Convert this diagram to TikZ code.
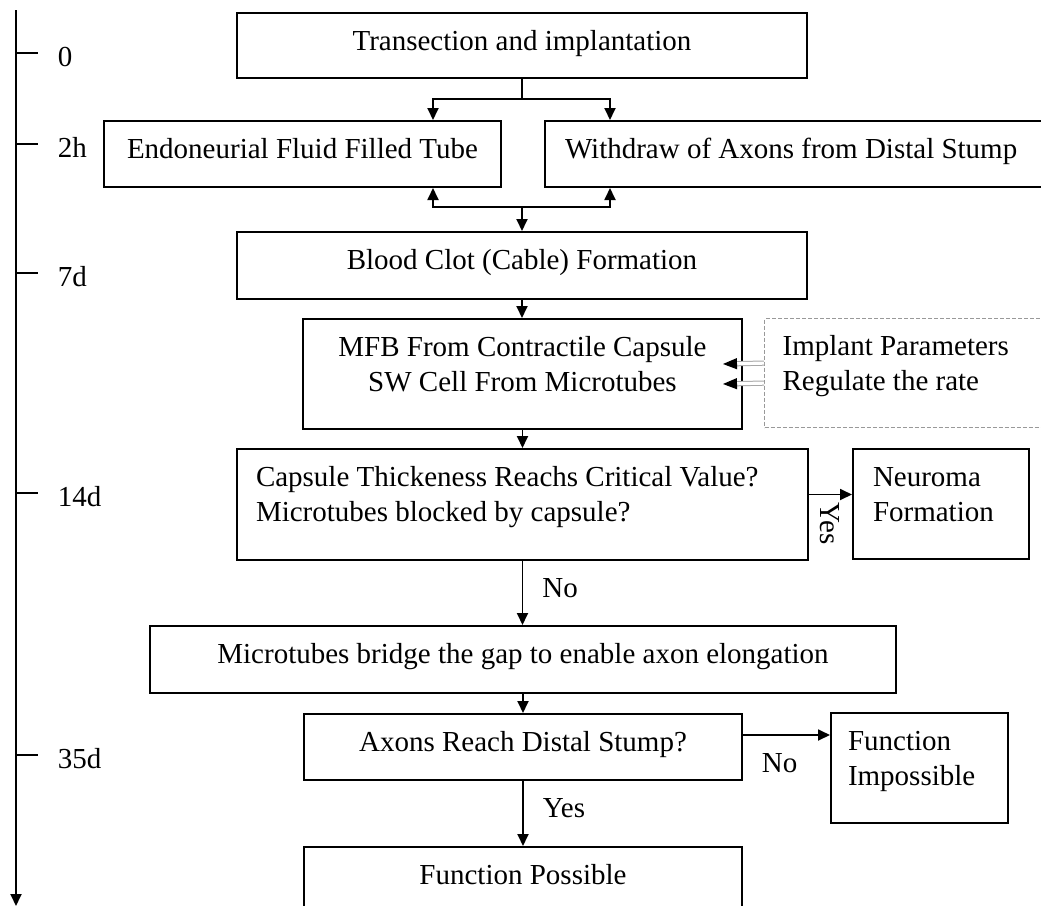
\documentclass[tikz,border=0pt]{standalone}
\usepackage{fontspec}
\setmainfont{Liberation Serif}
\usetikzlibrary{arrows.meta}

\begin{document}
\begin{tikzpicture}[x=0.5pt,y=-0.5pt,line width=0.9pt,
    font=\fontsize{14.5}{17.5}\selectfont,
    >={Triangle[length=6pt,width=5.5pt]},
    box/.style={draw,line width=1pt,anchor=north west,inner ysep=0pt,
      text height=18.5pt,align=flush center},
    lbox/.style={box,align=flush left},
    lab/.style={inner sep=0pt},
    dbl/.style={draw=gray!70,line width=0.5pt,double=white,double distance=1.6pt,
      -{Triangle[length=7pt,width=5.5pt,color=black]}}]
\useasboundingbox (0,0) rectangle (1041,906);

% time line
\draw[->] (16,10) -- (16,906);
\foreach \t/\lab in {53/0,144/2h,273/7d,493/14d,755/35d} {
    \draw (16,\t) -- (38,\t);
    \node[lab,anchor=base west] (tick\lab) at (57,\t+13.5) {\lab};
}

% boxes
\node[box,minimum width=285pt,text depth=14pt] (trans) at (236,12) {Transection and implantation};
\node[box,minimum width=198.5pt,text depth=14.5pt] (tube) at (103,120) {Endoneurial Fluid Filled Tube};
\node[lbox,inner xsep=10pt,text width=233pt,text depth=14.5pt] (wd) at (544,120) {Withdraw of Axons from Distal Stump};
\node[box,minimum width=285pt,text depth=15pt] (clot) at (236,231) {Blood Clot (Cable) Formation};
\node[box,inner xsep=0pt,text width=219.5pt,text depth=36.5pt] (mfb) at (302,318) {MFB From Contractile Capsule\\SW Cell From Microtubes};
\node[lbox,draw=gray!80,line width=0.6pt,dash pattern=on 2pt off 1pt,inner xsep=9pt,text width=130pt,text depth=36pt] (par) at (764,318) {Implant Parameters\\Regulate the rate};
\node[lbox,inner xsep=9.5pt,text width=266.5pt,text depth=37pt] (cap) at (236,448) {Capsule Thickeness Reachs Critical Value?\\Microtubes blocked by capsule?};
\node[lbox,inner xsep=10pt,text width=68pt,text depth=36.5pt] (neu) at (852,448) {Neuroma\\Formation};
\node[box,minimum width=373pt,text depth=15pt] (bridge) at (149,625) {Microtubes bridge the gap to enable axon elongation};
\node[box,minimum width=219pt,text depth=14.5pt] (reach) at (303,713) {Axons Reach Distal Stump?};
\node[lbox,inner xsep=8.5pt,text width=71.5pt,text depth=36.5pt] (imp) at (830,712) {Function\\Impossible};
\node[box,minimum width=219pt,text depth=31.5pt] (poss) at (303,846) {Function Possible};

% split and merge
\coordinate (sp) at (522,99);
\coordinate (spl) at (433,99);
\coordinate (spr) at (610,99);
\draw (trans.south) -- (sp);
\draw[->] (sp) -- (spl) -- (spl |- tube.north);
\draw[->] (sp) -- (spr) -- (spr |- wd.north);

\coordinate (mg) at (522,207);
\coordinate (mgl) at (433,207);
\coordinate (mgr) at (610,207);
\draw[->] (mg) -- (mgl) -- (mgl |- tube.south);
\draw[->] (mg) -- (mgr) -- (mgr |- wd.south);
\draw[->] (mg) -- (mg |- clot.north);

\draw[->] (clot.south) -- (clot.south |- mfb.north);
\draw[dbl] ([yshift=5pt]par.west) -- ([xshift=-10pt,yshift=5pt]mfb.east);
\draw[dbl] ([yshift=-5pt]par.west) -- ([xshift=-10pt,yshift=-5pt]mfb.east);
\draw[->] (mfb.south) -- (mfb.south |- cap.north);

\draw[->] ([yshift=5pt]cap.east) -- ([yshift=5pt]cap.east -| neu.west);
\node[lab,rotate=-90,anchor=west] (yes1) at (830,502) {Yes};
\draw[->] (cap.south) -- (cap.south |- bridge.north)
    node[lab,pos=0.42,anchor=west,xshift=9.5pt] (no1) {No};
\draw[->] (bridge.south) -- (bridge.south |- reach.north);

\draw[->] ([yshift=6pt]reach.east) -- ([yshift=6pt]reach.east -| imp.west)
    node[lab,pos=0.42,anchor=north,yshift=-9pt] (no2) {No};
\draw[->] (reach.south) -- (reach.south |- poss.north)
    node[lab,pos=0.42,anchor=west,xshift=9.5pt] (yes2) {Yes};
\end{tikzpicture}
\end{document}
